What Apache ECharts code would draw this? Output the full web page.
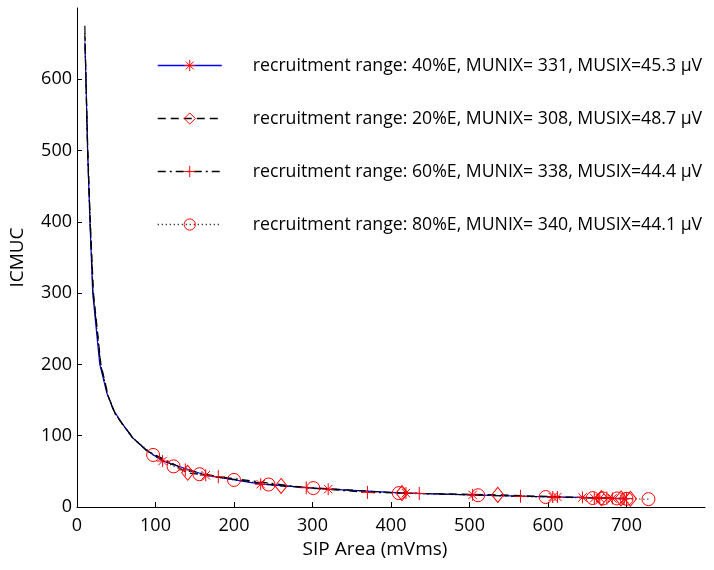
<!DOCTYPE html>
<html><head><meta charset="utf-8">
<script src="https://cdn.jsdelivr.net/npm/echarts@6/dist/echarts.min.js"></script>
<style>html,body{margin:0;padding:0;background:#fff}#c{width:714px;height:570px}</style>
</head><body><div id="c"></div>
<script>
// Series names
const names = [
  'recruitment range: 40%E, MUNIX= 331, MUSIX=45.3 µV',
  'recruitment range: 20%E, MUNIX= 308, MUSIX=48.7 µV',
  'recruitment range: 60%E, MUNIX= 338, MUSIX=44.4 µV',
  'recruitment range: 80%E, MUNIX= 340, MUSIX=44.1 µV'
];
// 40%E (blue solid, asterisk)
const x40 = [10, 11.4, 13.5, 16.5, 20, 29, 38, 47, 57, 70, 88, 109, 164, 234, 320, 419, 504, 606, 612, 644, 659, 666, 682, 697];
const y40 = [652, 600, 500, 400, 300, 200, 160, 135, 118, 98, 80, 64.5, 44.5, 32, 25, 19.5, 17, 14, 14, 13.5, 12.5, 12.5, 12, 11.5];
const k40 = [0,0,0,0,0,0,0,0,0,0,0,1,1,1,1,1,1,1,1,1,1,1,1,1];
// 20%E (black dashed, diamond)
const x20 = [10, 11.5, 13.8, 17, 21, 30.5, 40, 49, 59, 72, 90, 141, 260, 414, 536, 668, 693, 705];
const y20 = [665, 600, 500, 400, 300, 200, 155, 130, 115, 96, 78, 48, 29.5, 19.5, 17, 12.5, 12, 11.5];
const k20 = [0,0,0,0,0,0,0,0,0,0,0,1,1,1,1,1,1,1];
// 60%E (black dash-dot, plus)
const x60 = [10, 11.3, 13.5, 16.6, 20.5, 30, 39, 48, 58, 71, 89, 138, 180, 292, 370, 436, 565, 675, 700];
const y60 = [675, 600, 500, 400, 300, 200, 157, 132, 116, 97, 79, 52, 42.5, 27, 20.5, 19, 15, 12.5, 12];
const k60 = [0,0,0,0,0,0,0,0,0,0,0,1,1,1,1,1,1,1,1];
// 80%E (black dotted, circle)
const x80 = [10, 11.4, 13.6, 16.8, 20.5, 30, 39, 48, 58, 71, 97, 123, 156, 200, 244, 301, 410, 511, 597, 657, 670, 688, 700, 728];
const y80 = [660, 600, 500, 400, 300, 200, 157, 132, 116, 97, 73, 57, 46, 38, 31.5, 26.5, 19.5, 16.5, 14, 12.5, 12, 12, 11.5, 11];
const k80 = [0,0,0,0,0,0,0,0,0,0,1,1,1,1,1,1,1,1,1,1,1,1,1,1];

const xTicks = [0, 100, 200, 300, 400, 500, 600, 700];
const yTicks = [0, 100, 200, 300, 400, 500, 600];

const FONT = 'Open Sans';
const asterisk = 'path://M0,-10L0,10M-10,0L10,0M-7,-7L7,7M-7,7L7,-7';
const plus = 'path://M0,-10L0,10M-10,0L10,0';

const styles = [
  { color: '#0000ff', dash: 'solid', symbol: asterisk, size: 12 },
  { color: '#000000', dash: [8, 5], symbol: 'diamond', size: [12, 15] },
  { color: '#000000', dash: [8, 4, 2, 4], symbol: plus, size: 13 },
  { color: '#000000', dash: [1, 3], symbol: 'circle', size: 13 }
];
const markerStyle = { color: 'rgba(255,255,255,0)', borderColor: '#ff0000', borderWidth: 1 };

function build(xs, ys, ks) {
  return xs.map((x, i) => ks[i] ? { value: [x, ys[i]] } : { value: [x, ys[i]], symbol: 'none' });
}
function mk(i, xs, ys, ks) {
  const s = styles[i];
  return {
    name: names[i], type: 'line', data: build(xs, ys, ks),
    symbol: s.symbol, symbolSize: s.size, showAllSymbol: true,
    lineStyle: { color: s.color, width: 1.2, type: s.dash },
    itemStyle: markerStyle,
    emphasis: { disabled: true }, animation: false, z: 2
  };
}

const chart = echarts.init(document.getElementById('c'), null, { renderer: 'canvas' });
chart.setOption({
  backgroundColor: '#fff',
  animation: false,
  grid: { left: 75, right: 9, top: 8, bottom: 63 },
  xAxis: {
    type: 'value', min: 0, max: 800, interval: 100,
    name: 'SIP Area (mVms)', nameLocation: 'middle', nameGap: 33,
    nameTextStyle: { fontFamily: FONT, fontSize: 19, color: '#000', padding: [0, 32, 0, 0] },
    axisLine: { show: true, lineStyle: { color: '#000', width: 1 } },
    axisTick: { show: true, inside: true, length: 5, lineStyle: { color: '#000' }, customValues: xTicks },
    axisLabel: { fontFamily: FONT, fontSize: 18, color: '#000', margin: 10, customValues: xTicks },
    splitLine: { show: false }
  },
  yAxis: {
    type: 'value', min: 0, max: 700, interval: 100,
    name: 'ICMUC', nameLocation: 'middle', nameGap: 50,
    nameTextStyle: { fontFamily: FONT, fontSize: 19, color: '#000' },
    axisLine: { show: true, lineStyle: { color: '#000', width: 1 } },
    axisTick: { show: true, inside: true, length: 5, lineStyle: { color: '#000' }, customValues: yTicks },
    axisLabel: { fontFamily: FONT, fontSize: 18, color: '#000', margin: 5, customValues: yTicks },
    splitLine: { show: false }
  },
  legend: {
    orient: 'vertical', left: 152, top: 51.5,
    itemWidth: 64, itemHeight: 14, itemGap: 35,
    textStyle: { fontFamily: FONT, fontSize: 17.7, lineHeight: 15, color: '#000', padding: [0, 0, 0, 26] },
    data: names.map((n, i) => ({
      name: n,
      lineStyle: { color: styles[i].color, width: 1.5, type: styles[i].dash },
      itemStyle: markerStyle
    })),
    selectedMode: false
  },
  series: [
    mk(0, x40, y40, k40),
    mk(1, x20, y20, k20),
    mk(2, x60, y60, k60),
    mk(3, x80, y80, k80)
  ]
});
</script></body></html>
